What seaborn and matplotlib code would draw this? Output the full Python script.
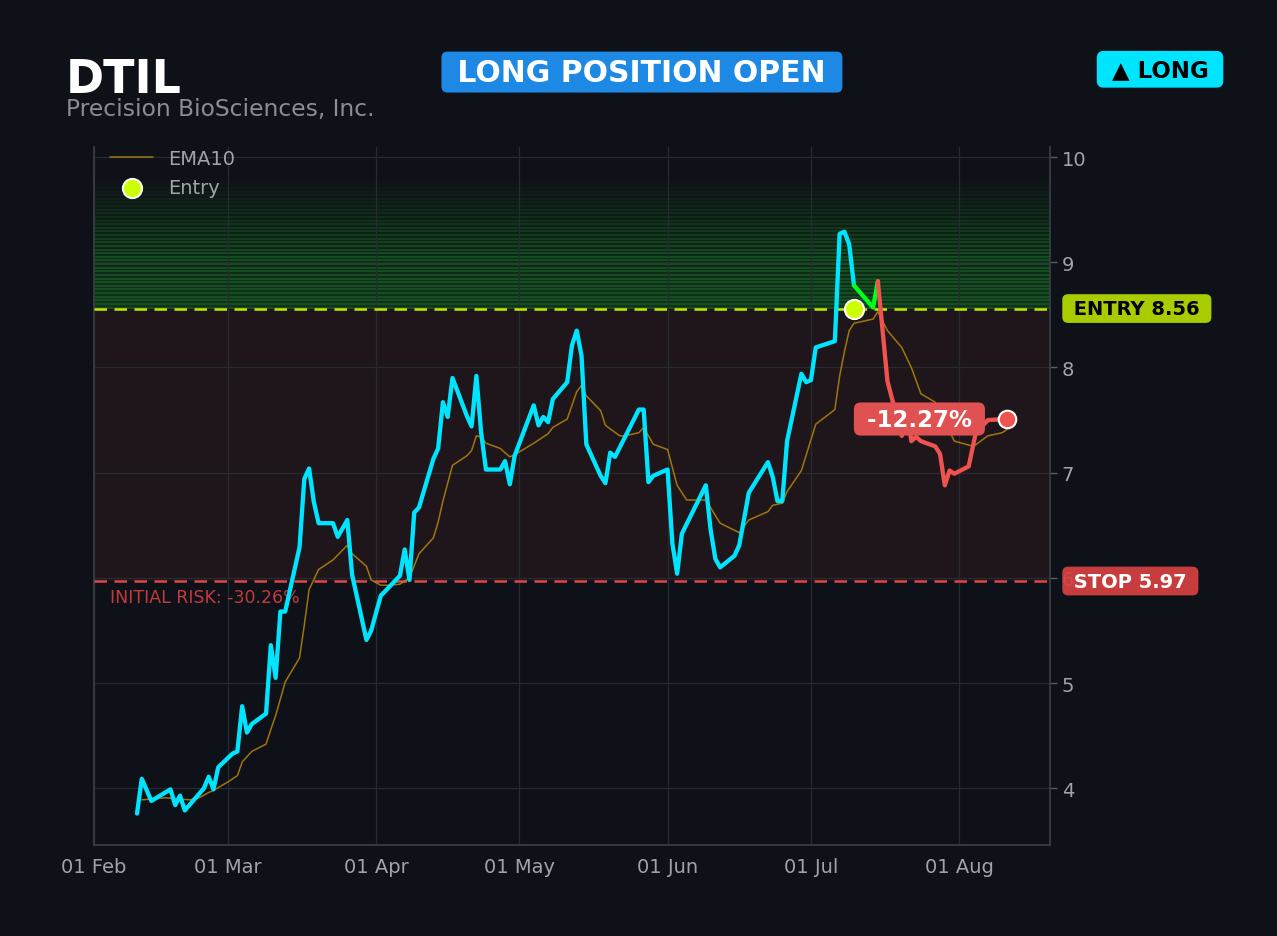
import pandas as pd
import seaborn as sns
import matplotlib.pyplot as plt
import matplotlib.dates as mdates

# Daily closes
dates = [
    "2025-02-10", "2025-02-11", "2025-02-13", "2025-02-17", "2025-02-18", "2025-02-19",
    "2025-02-20", "2025-02-24", "2025-02-25", "2025-02-26", "2025-02-27", "2025-03-02",
    "2025-03-03", "2025-03-04", "2025-03-05", "2025-03-06", "2025-03-09", "2025-03-10",
    "2025-03-11", "2025-03-12", "2025-03-13", "2025-03-16", "2025-03-17", "2025-03-18",
    "2025-03-19", "2025-03-20", "2025-03-23", "2025-03-24", "2025-03-26", "2025-03-27",
    "2025-03-30", "2025-03-31", "2025-04-02", "2025-04-06", "2025-04-07", "2025-04-08",
    "2025-04-09", "2025-04-10", "2025-04-13", "2025-04-14", "2025-04-15", "2025-04-16",
    "2025-04-17", "2025-04-20", "2025-04-21", "2025-04-22", "2025-04-23", "2025-04-24",
    "2025-04-27", "2025-04-28", "2025-04-29", "2025-04-30", "2025-05-04", "2025-05-05",
    "2025-05-06", "2025-05-07", "2025-05-08", "2025-05-11", "2025-05-12", "2025-05-13",
    "2025-05-14", "2025-05-15", "2025-05-18", "2025-05-19", "2025-05-20", "2025-05-21",
    "2025-05-26", "2025-05-27", "2025-05-28", "2025-05-29", "2025-06-01", "2025-06-02",
    "2025-06-03", "2025-06-04", "2025-06-09", "2025-06-10", "2025-06-11", "2025-06-12",
    "2025-06-15", "2025-06-16", "2025-06-18", "2025-06-22", "2025-06-23", "2025-06-24",
    "2025-06-25", "2025-06-26", "2025-06-29", "2025-06-30", "2025-07-01", "2025-07-02",
    "2025-07-06", "2025-07-07", "2025-07-08", "2025-07-09", "2025-07-10", "2025-07-14",
    "2025-07-15", "2025-07-17", "2025-07-20", "2025-07-21", "2025-07-22", "2025-07-23",
    "2025-07-24", "2025-07-27", "2025-07-28", "2025-07-29", "2025-07-30", "2025-07-31",
    "2025-08-03", "2025-08-05", "2025-08-06", "2025-08-07", "2025-08-11",
]
close = [
    3.76, 4.09, 3.88, 3.99, 3.84, 3.93,
    3.79, 4.00, 4.11, 3.99, 4.20, 4.33,
    4.35, 4.78, 4.53, 4.61, 4.71, 5.36,
    5.05, 5.68, 5.68, 6.29, 6.94, 7.04,
    6.72, 6.52, 6.52, 6.39, 6.55, 6.03,
    5.41, 5.50, 5.83, 6.02, 6.27, 5.98,
    6.62, 6.67, 7.13, 7.23, 7.67, 7.53,
    7.90, 7.54, 7.44, 7.92, 7.38, 7.03,
    7.03, 7.11, 6.89, 7.16, 7.64, 7.45,
    7.53, 7.48, 7.70, 7.86, 8.21, 8.35,
    8.11, 7.27, 6.97, 6.90, 7.19, 7.15,
    7.60, 7.60, 6.91, 6.97, 7.03, 6.33,
    6.04, 6.42, 6.88, 6.46, 6.18, 6.10,
    6.21, 6.31, 6.81, 7.10, 6.96, 6.73,
    6.73, 7.30, 7.94, 7.86, 7.88, 8.19,
    8.25, 9.27, 9.29, 9.17, 8.78, 8.57,
    8.82, 7.87, 7.35, 7.64, 7.30, 7.34,
    7.30, 7.25, 7.18, 6.88, 7.02, 6.99,
    7.06, 7.49, 7.45, 7.50, 7.51,
]

# EMA10 as drawn on the chart
ema_dates = [
    "2025-02-11", "2025-02-16", "2025-02-21", "2025-02-23", "2025-02-25", "2025-02-26",
    "2025-03-01", "2025-03-03", "2025-03-04", "2025-03-06", "2025-03-09", "2025-03-10",
    "2025-03-11", "2025-03-12", "2025-03-13", "2025-03-16", "2025-03-17", "2025-03-18",
    "2025-03-20", "2025-03-23", "2025-03-26", "2025-03-27", "2025-03-30", "2025-03-31",
    "2025-04-02", "2025-04-04", "2025-04-06", "2025-04-08", "2025-04-10", "2025-04-13",
    "2025-04-14", "2025-04-15", "2025-04-17", "2025-04-20", "2025-04-21", "2025-04-22",
    "2025-04-23", "2025-04-24", "2025-04-27", "2025-04-28", "2025-04-29", "2025-04-30",
    "2025-05-04", "2025-05-07", "2025-05-08", "2025-05-11", "2025-05-13", "2025-05-14",
    "2025-05-15", "2025-05-18", "2025-05-19", "2025-05-22", "2025-05-23", "2025-05-26",
    "2025-05-27", "2025-05-29", "2025-06-01", "2025-06-03", "2025-06-05", "2025-06-09",
    "2025-06-12", "2025-06-16", "2025-06-18", "2025-06-22", "2025-06-23", "2025-06-25",
    "2025-06-26", "2025-06-29", "2025-07-02", "2025-07-06", "2025-07-07", "2025-07-08",
    "2025-07-09", "2025-07-10", "2025-07-14", "2025-07-15", "2025-07-17", "2025-07-20",
    "2025-07-22", "2025-07-24", "2025-07-27", "2025-07-31", "2025-08-04", "2025-08-07",
    "2025-08-10", "2025-08-11",
]
ema10 = [
    3.89, 3.91, 3.89, 3.91, 3.96, 3.98,
    4.06, 4.12, 4.25, 4.35, 4.42, 4.56,
    4.69, 4.85, 5.01, 5.24, 5.55, 5.89,
    6.08, 6.17, 6.31, 6.23, 6.11, 5.98,
    5.93, 5.93, 5.94, 6.00, 6.23, 6.38,
    6.53, 6.73, 7.07, 7.16, 7.21, 7.35,
    7.34, 7.28, 7.23, 7.19, 7.15, 7.17,
    7.28, 7.37, 7.43, 7.51, 7.77, 7.83,
    7.73, 7.59, 7.45, 7.35, 7.35, 7.38,
    7.43, 7.27, 7.22, 6.88, 6.74, 6.74,
    6.52, 6.43, 6.55, 6.63, 6.69, 6.71,
    6.82, 7.02, 7.46, 7.60, 7.92, 8.15,
    8.35, 8.42, 8.46, 8.53, 8.35, 8.19,
    8.00, 7.75, 7.67, 7.30, 7.25, 7.35,
    7.38, 7.41,
]

ticker = "DTIL"
company = "Precision BioSciences, Inc."
entry_date = "2025-07-10"
entry_price = 8.56
stop_price = 5.97
x_range = ["2025-02-01", "2025-08-20"]
y_range = [3.46, 10.095]

BG = "#0e1117"
CYAN = "#00e5ff"
GREEN = "#00ff1a"
RED = "#ef5350"
LIME = "#ccff00"
GRAY = "#a0a3a8"

df = pd.DataFrame({"date": pd.to_datetime(dates), "close": close})
ema = pd.DataFrame({"date": pd.to_datetime(ema_dates), "ema": ema10})
entry_ts = pd.Timestamp(entry_date)

sns.set_theme(style="darkgrid", rc={
    "figure.facecolor": BG,
    "axes.facecolor": BG,
    "axes.edgecolor": "#3a3d44",
    "grid.color": "#262a31",
    "grid.linewidth": 0.9,
})
plt.rcParams["font.family"] = ["DejaVu Sans"]

fig, ax = plt.subplots(figsize=(12.77, 9.37), dpi=100)
fig.subplots_adjust(left=0.0736, right=0.8222, bottom=0.097, top=0.842)

# risk zone below entry
ax.axhspan(stop_price, entry_price, color=RED, alpha=0.08, lw=0, zorder=0)

# striped glow above entry, fading upwards
n_bands = 36
glow = 1.24
step = glow / n_bands
for i in range(n_bands):
    ax.axhspan(entry_price, entry_price + step * (i + 1),
               color="#2ecc40", alpha=0.008, lw=0, zorder=0)
    lo = entry_price + step * i
    ax.axhspan(lo, lo + step * 0.55, color="#2ecc40",
               alpha=0.32 * (1 - i / n_bands), lw=0, zorder=0)

ax.axhline(entry_price, color="#c8e600", ls=(0, (5, 3)), lw=1.8, zorder=3)
ax.axhline(stop_price, color="#e04848", ls=(0, (5, 3)), lw=1.8, zorder=3)

sns.lineplot(data=ema, x="date", y="ema", color="#b8860b", lw=1.1, alpha=0.85,
             label="EMA10", ax=ax, zorder=3)

# price before entry
i0 = df.index[df.date == entry_ts][0]
sns.lineplot(data=df.loc[:i0], x="date", y="close", color=CYAN, lw=3.1,
             ax=ax, zorder=4)

# price after entry: green while above entry, red below
after = df.loc[i0:].reset_index(drop=True)
up = after.close >= entry_price
start = 0
for k in range(1, len(after)):
    if k == len(after) - 1 or up[k + 1] != up[k]:
        sns.lineplot(data=after.loc[start:k], x="date", y="close",
                     color=GREEN if up[k] else RED, lw=3.1, ax=ax, zorder=4)
        start = k

sns.scatterplot(x=[entry_ts], y=[entry_price], s=190, color=LIME,
                edgecolor="white", linewidth=1.5, label="Entry", ax=ax, zorder=6)
sns.scatterplot(x=[df.date.iloc[-1]], y=[df.close.iloc[-1]], s=160, color=RED,
                edgecolor="white", linewidth=1.5, ax=ax, zorder=6, legend=False)

ax.set(xlim=pd.to_datetime(x_range), ylim=y_range, xlabel="", ylabel="")
ax.xaxis.set_major_locator(mdates.MonthLocator())
ax.xaxis.set_major_formatter(mdates.DateFormatter("%d %b"))
ax.yaxis.tick_right()
ax.tick_params(axis="both", colors=GRAY, labelsize=14, length=5, width=1)
ax.tick_params(axis="both", color="#5a5d63")
ax.spines["top"].set_visible(False)

ax.legend(loc="upper left", bbox_to_anchor=(0.015, 1.0), frameon=False,
          fontsize=14, labelcolor=GRAY, borderaxespad=0, borderpad=0.1,
          labelspacing=0.5, handlelength=2.2)

# price labels on the right
pnl = (close[-1] / entry_price - 1) * 100
risk = (stop_price / entry_price - 1) * 100
yt = ax.get_yaxis_transform()
ax.text(1.018, entry_price, f" ENTRY {entry_price:.2f} ", transform=yt, ha="left",
        va="center", fontsize=14, fontweight="bold", color="black", zorder=10,
        clip_on=False,
        bbox=dict(boxstyle="round,pad=0.25,rounding_size=0.3", fc="#a8cc00", ec="none"))
ax.text(1.018, stop_price, f" STOP {stop_price:.2f} ", transform=yt, ha="left",
        va="center", fontsize=14, fontweight="bold", color="white", zorder=10,
        clip_on=False,
        bbox=dict(boxstyle="round,pad=0.25,rounding_size=0.3", fc="#d64141",
                  ec="none", alpha=0.93))
ax.annotate(f"INITIAL RISK: {risk:.2f}%", xy=(0.017, stop_price), xycoords=yt,
            xytext=(0, -5), textcoords="offset points", ha="left", va="top",
            fontsize=12.5, color="#c23a3c")
ax.annotate(f" {pnl:.2f}% ", xy=(mdates.date2num(df.date.iloc[-1]), close[-1]),
            xytext=(-63, 0), textcoords="offset points", ha="center", va="center",
            fontsize=16.5, fontweight="bold", color="white", zorder=8,
            bbox=dict(boxstyle="round,pad=0.22,rounding_size=0.3", fc="#e05252", ec="none"))

# header
fig.text(0.0517, 0.901, ticker, fontsize=33, fontweight="bold", color="white",
         va="baseline")
fig.text(0.0517, 0.876, company, fontsize=16.8, color="#8a8d93", va="baseline")
fig.text(0.5027, 0.922, " LONG POSITION OPEN ", fontsize=21.5, fontweight="bold",
         color="white", ha="center", va="center",
         bbox=dict(boxstyle="round,pad=0.2,rounding_size=0.2", fc="#1e88e5", ec="none"))
fig.text(0.9084, 0.925, " ▲ LONG ", fontsize=16.5, fontweight="bold", color="black",
         ha="center", va="center",
         bbox=dict(boxstyle="round,pad=0.3,rounding_size=0.3", fc=CYAN, ec="none"))

fig.savefig("out.png", dpi=100, facecolor=BG)
